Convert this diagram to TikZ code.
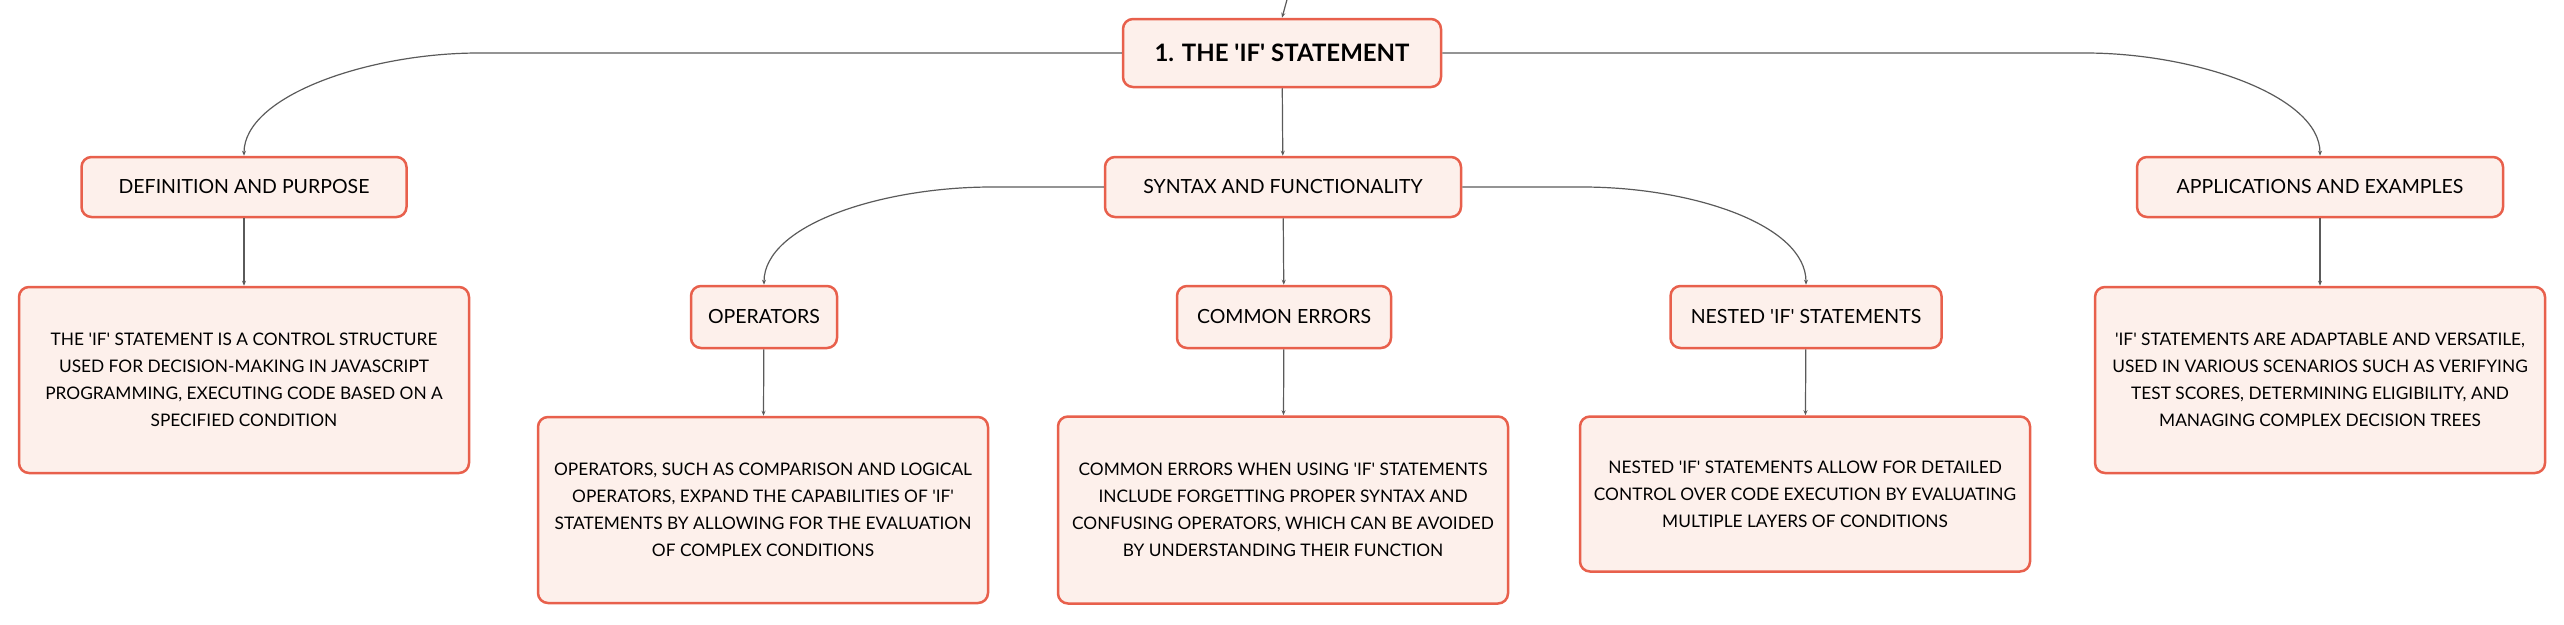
\documentclass[tikz,border=0pt]{standalone}
\usepackage{fontspec}
\setmainfont{Lato}[Ligatures=TeXOff]
\usepackage{tikz}
\usetikzlibrary{arrows.meta}
\usetikzlibrary{positioning}
\definecolor{boxline}{HTML}{E8604C}
\definecolor{boxfill}{HTML}{FDF0EB}
\definecolor{linkgray}{HTML}{5A5A5A}

\begin{document}
\begin{tikzpicture}[x=1pt,y=-1pt,->,>={Stealth[length=5pt,width=4pt]},draw=linkgray,line width=1.2pt]
  \tikzstyle{topic}=[draw=boxline,fill=boxfill,line width=2.5pt,rounded corners=10pt,text=black,align=center,inner sep=0pt]
  \tikzstyle{maintopic}=[topic,minimum width=318pt,minimum height=68pt,font=\fontsize{24}{28}\selectfont\bfseries]
  \tikzstyle{subtopic}=[topic,minimum height=60pt,font=\fontsize{19.5}{27}\selectfont]
  \tikzstyle{detail}=[topic,minimum width=450pt,font=\fontsize{17.3}{27}\selectfont]
  \tikzstyle{curvy}=[out=180,in=90,out distance=110pt,in distance=60pt]
  \tikzstyle{curvyr}=[out=0,in=90,out distance=110pt,in distance=60pt]

  \useasboundingbox (0,0) rectangle (2564,624);

  % main topic and its branches
  \node[maintopic] (root) at (1282,53) {1. THE 'IF' STATEMENT};
  \node[subtopic,minimum width=325pt] (def) at (244,187) {DEFINITION AND PURPOSE};
  \node[subtopic,minimum width=356pt] (syn) at (1283,187) {SYNTAX AND FUNCTIONALITY};
  \node[subtopic,minimum width=366pt] (app) at (2320,187) {APPLICATIONS AND EXAMPLES};

  % syntax children
  \node[subtopic,minimum width=146pt,minimum height=62pt] (ops) at (764,317) {OPERATORS};
  \node[subtopic,minimum width=214pt,minimum height=62pt] (err) at (1284,317) {COMMON ERRORS};
  \node[subtopic,minimum width=271pt,minimum height=62pt] (nst) at (1806,317) {NESTED 'IF' STATEMENTS};

  % detail boxes
  \node[detail,minimum height=186pt] (defd) at (244,380)
    {THE 'IF' STATEMENT IS A CONTROL STRUCTURE\\USED FOR DECISION-MAKING IN JAVASCRIPT\\PROGRAMMING, EXECUTING CODE BASED ON A\\SPECIFIED CONDITION};
  \node[detail,minimum height=186pt] (opsd) at (763,510)
    {OPERATORS, SUCH AS COMPARISON AND LOGICAL\\OPERATORS, EXPAND THE CAPABILITIES OF 'IF'\\STATEMENTS BY ALLOWING FOR THE EVALUATION\\OF COMPLEX CONDITIONS};
  \node[detail,minimum height=187pt] (errd) at (1283,510)
    {COMMON ERRORS WHEN USING 'IF' STATEMENTS\\INCLUDE FORGETTING PROPER SYNTAX AND\\CONFUSING OPERATORS, WHICH CAN BE AVOIDED\\BY UNDERSTANDING THEIR FUNCTION};
  \node[detail,minimum height=155pt] (nstd) at (1805,494)
    {NESTED 'IF' STATEMENTS ALLOW FOR DETAILED\\CONTROL OVER CODE EXECUTION BY EVALUATING\\MULTIPLE LAYERS OF CONDITIONS};
  \node[detail,minimum height=186pt] (appd) at (2320,380)
    {'IF' STATEMENTS ARE ADAPTABLE AND VERSATILE,\\USED IN VARIOUS SCENARIOS SUCH AS VERIFYING\\TEST SCORES, DETERMINING ELIGIBILITY, AND\\MANAGING COMPLEX DECISION TREES};

  \coordinate (parent) at (1288,-4);

  % connectors
  \draw (parent) -- (root.north);
  \draw (root.west) -- ++(-643,0) to[curvy] (def.north);
  \draw (root.east) -- ++(643,0) to[curvyr] (app.north);
  \draw (syn.west) -- ++(-112,0) to[curvy] (ops.north);
  \draw (syn.east) -- ++(120,0) to[curvyr] (nst.north);

  \path (root) edge (syn)
        (def)  edge (defd)
        (app)  edge (appd)
        (syn)  edge (err)
        (ops)  edge (opsd)
        (err)  edge (errd)
        (nst)  edge (nstd);
\end{tikzpicture}
\end{document}
